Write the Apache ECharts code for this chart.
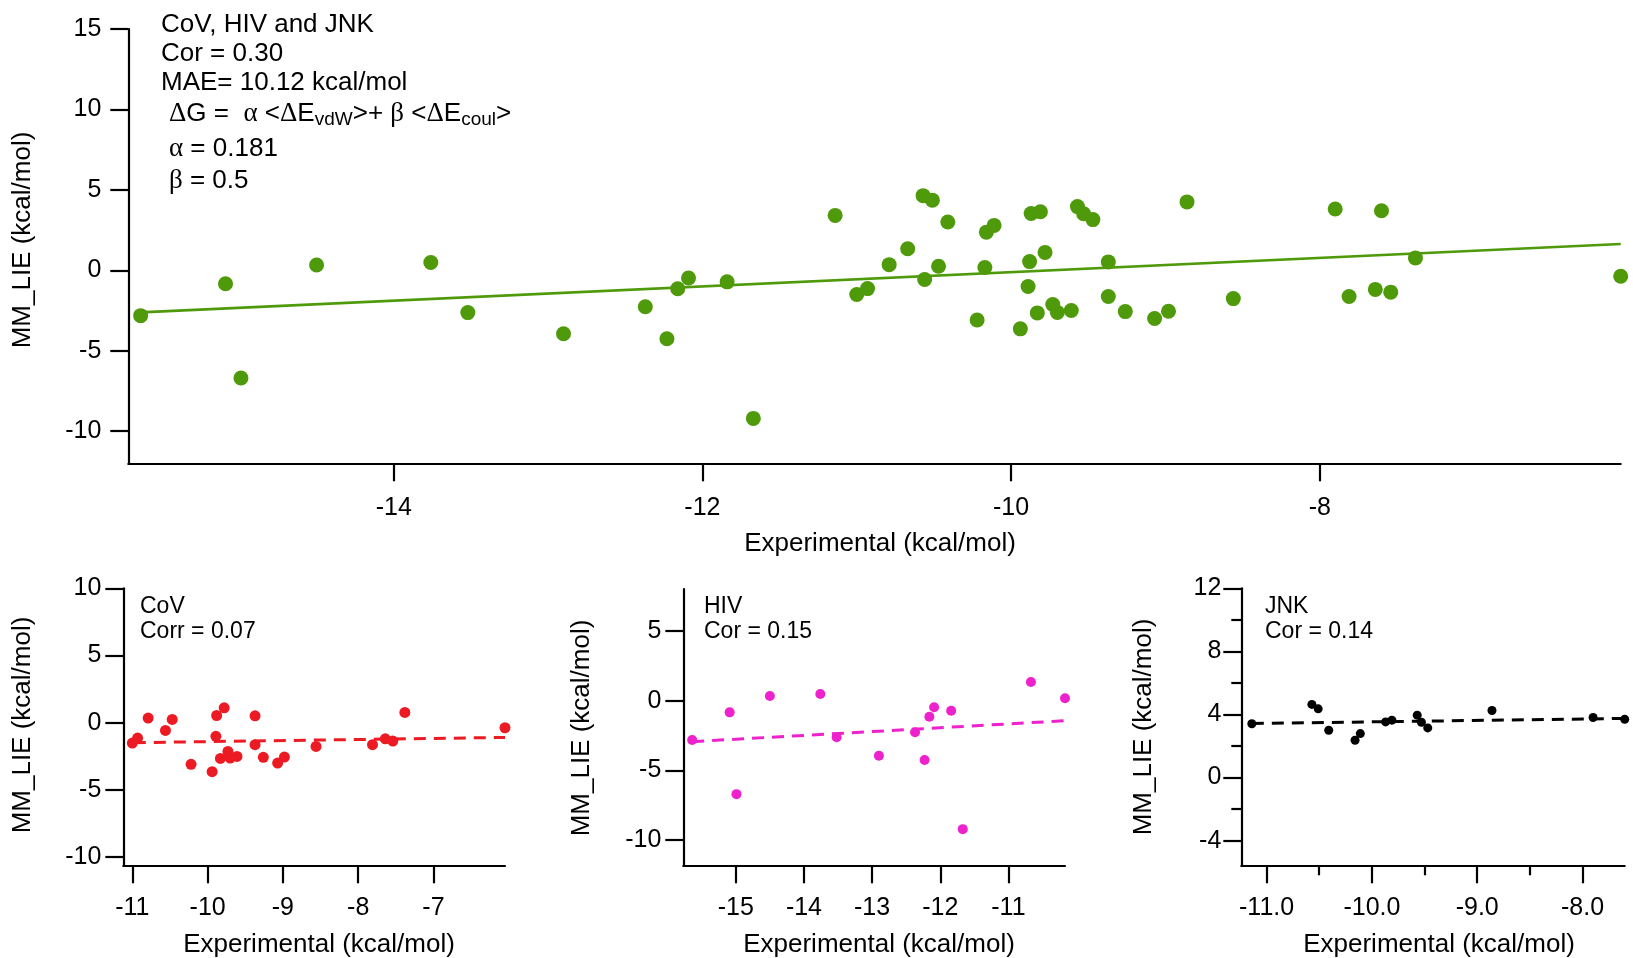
<!DOCTYPE html>
<html>
<head>
<meta charset="utf-8">
<script src="https://cdn.jsdelivr.net/npm/echarts@6/dist/echarts.min.js"></script>
<style>
  html, body { margin: 0; padding: 0; background: #fff; }
  #chart { width: 1633px; height: 958px; }
</style>
</head>
<body>
<div id="chart"></div>
<script>
// values (kcal/mol)
const covX = [-11.0, -10.93, -10.79, -10.56, -10.47, -10.22, -9.94, -9.89, -9.88, -9.78, -9.83, -9.73, -9.70, -9.61, -9.37, -9.37, -9.26, -9.07, -8.98, -8.56, -7.81, -7.64, -7.54, -7.38, -6.05]
const covY = [-1.51, -1.14, 0.35, -0.57, 0.25, -3.09, -3.64, -1.01, 0.54, 1.11, -2.65, -2.13, -2.62, -2.5, 0.52, -1.63, -2.57, -3.0, -2.55, -1.76, -1.63, -1.19, -1.36, 0.77, -0.37]
const hivX = [-15.64, -15.09, -14.99, -14.5, -13.76, -13.52, -12.9, -12.37, -12.23, -12.16, -12.09, -11.84, -11.67, -10.67, -10.17]
const hivY = [-2.82, -0.84, -6.7, 0.33, 0.48, -2.63, -3.95, -2.27, -4.26, -1.15, -0.48, -0.72, -9.21, 1.34, 0.17]
const jnkX = [-11.14, -10.57, -10.51, -10.41, -10.16, -10.11, -9.87, -9.81, -9.57, -9.53, -9.47, -8.86, -7.9, -7.6]
const jnkY = [3.41, 4.64, 4.36, 3.0, 2.37, 2.79, 3.53, 3.64, 3.96, 3.51, 3.15, 4.25, 3.81, 3.7]

// fitted lines, end points
const allFitX = [-15.64, -6.05]
const allFitY = [-2.62, 1.63]
const covFitX = [-10.98, -6.05]
const covFitY = [-1.48, -1.09]
const hivFitX = [-15.64, -10.17]
const hivFitY = [-2.94, -1.44]
const jnkFitX = [-11.14, -7.6]
const jnkFitY = [3.43, 3.75]

// tick labels
const topXTicks = [-14, -12, -10, -8]
const topYTicks = [-10, -5, 0, 5, 10, 15]
const covXTicks = [-11, -10, -9, -8, -7]
const covYTicks = [-10, -5, 0, 5, 10]
const hivXTicks = [-15, -14, -13, -12, -11]
const hivYTicks = [-10, -5, 0, 5]
const jnkXTicks = [-11, -10, -9, -8]
const jnkXMinor = [-10.5, -9.5, -8.5]
const jnkYTicks = [-4, 0, 4, 8, 12]
const jnkYMinor = [-2, 2, 6, 10]

const SANS = "'Liberation Sans', Arial, sans-serif"
const SERIF = "'Liberation Serif', 'Times New Roman', serif"

const pairs = (xs, ys) => xs.map((x, i) => [x, ys[i]])

function axis(dim, gridIndex, min, max, ticks, margin, fmt) {
  return {
    type: "value",
    gridIndex: gridIndex,
    position: dim === "x" ? "bottom" : "left",
    min: min,
    max: max,
    axisLine: { show: true, onZero: false, lineStyle: { color: "#000", width: 2.2 } },
    axisTick: { show: true, inside: false, length: 18, customValues: ticks, lineStyle: { color: "#000", width: 2.2 } },
    axisLabel: {
      customValues: ticks,
      margin: margin,
      color: "#000",
      fontSize: 25,
      fontFamily: SANS,
      formatter: fmt || ((v) => String(v)),
    },
    splitLine: { show: false },
  }
}

// short ticks only, no line and no labels
function minorAxis(dim, gridIndex, min, max, ticks) {
  return {
    type: "value",
    gridIndex: gridIndex,
    position: dim === "x" ? "bottom" : "left",
    min: min,
    max: max,
    axisLine: { show: false, onZero: false },
    axisTick: { show: true, inside: false, length: 10, customValues: ticks, lineStyle: { color: "#000", width: 2.2 } },
    axisLabel: { show: false },
    splitLine: { show: false },
  }
}

function dots(xi, yi, xs, ys, color, size) {
  return {
    type: "scatter",
    xAxisIndex: xi,
    yAxisIndex: yi,
    data: pairs(xs, ys),
    symbol: "circle",
    symbolSize: size,
    clip: false,
    itemStyle: { color: color, opacity: 1 },
    z: 3,
    silent: true,
  }
}

function fit(xi, yi, xs, ys, color, width, dashed) {
  return {
    type: "line",
    xAxisIndex: xi,
    yAxisIndex: yi,
    data: pairs(xs, ys),
    symbol: "none",
    clip: false,
    lineStyle: { color: color, width: width, type: dashed ? [12, 8] : "solid" },
    z: 2,
    silent: true,
  }
}

function label(text, x, y, size) {
  return {
    type: "text",
    x: x,
    y: y,
    style: { text: text, fill: "#000", fontSize: size || 26, fontFamily: SANS, align: "left", verticalAlign: "middle" },
  }
}

function centered(text, x, y, rotate) {
  return {
    type: "text",
    x: x,
    y: y,
    rotation: rotate ? Math.PI / 2 : 0,
    style: { text: text, fill: "#000", fontSize: 26, fontFamily: SANS, align: "center", verticalAlign: "middle" },
  }
}

const green = "#4e9a0a"
const red = "#ec1b23"
const pink = "#ee22cc"

const chart = echarts.init(document.getElementById("chart"))
chart.setOption({
  animation: false,
  backgroundColor: "#fff",
  grid: [
    { left: 128.3, top: 29, width: 1492.4, height: 434.3, outerBoundsMode: "none" },
    { left: 123.3, top: 588.3, width: 381.7, height: 277, outerBoundsMode: "none" },
    { left: 683.3, top: 589, width: 381.7, height: 276.3, outerBoundsMode: "none" },
    { left: 1241.3, top: 588.3, width: 383.4, height: 277, outerBoundsMode: "none" },
  ],
  xAxis: [
    axis("x", 0, -15.72, -6.05, topXTicks, 32),
    axis("x", 1, -11.12, -6.05, covXTicks, 30),
    axis("x", 2, -15.77, -10.17, hivXTicks, 30),
    axis("x", 3, -11.24, -7.6, jnkXTicks, 30, (v) => v.toFixed(1)),
    minorAxis("x", 3, -11.24, -7.6, jnkXMinor),
  ],
  yAxis: [
    axis("y", 0, -12, 15, topYTicks, 27),
    axis("y", 1, -10.6, 10, covYTicks, 22),
    axis("y", 2, -11.8, 8, hivYTicks, 22),
    axis("y", 3, -5.56, 12, jnkYTicks, 20),
    minorAxis("y", 3, -5.56, 12, jnkYMinor),
  ],
  series: [
    fit(0, 0, allFitX, allFitY, green, 2.6, false),
    dots(0, 0, covX.concat(hivX, jnkX), covY.concat(hivY, jnkY), green, 15),
    fit(1, 1, covFitX, covFitY, red, 3, true),
    dots(1, 1, covX, covY, red, 11),
    fit(2, 2, hivFitX, hivFitY, pink, 3, true),
    dots(2, 2, hivX, hivY, pink, 10),
    fit(3, 3, jnkFitX, jnkFitY, "#000", 3, true),
    dots(3, 3, jnkX, jnkY, "#000", 9),
  ],
  graphic: [
    // top panel notes
    label("CoV, HIV and JNK", 161, 25),
    label("Cor = 0.30", 161, 54),
    label("MAE= 10.12 kcal/mol", 161, 83),
    {
      type: "text",
      x: 169,
      y: 114,
      style: {
        text: "{g|Δ}{t|G =  }{g|α}{t| <}{g|Δ}{t|E}{s|vdW}{t|>+ }{g|β}{t| <}{g|Δ}{t|E}{s|coul}{t|>}",
        align: "left",
        verticalAlign: "middle",
        rich: {
          g: { fill: "#000", fontFamily: SERIF, fontSize: 27, lineHeight: 30 },
          t: { fill: "#000", fontFamily: SANS, fontSize: 26, lineHeight: 30 },
          s: { fill: "#000", fontFamily: SANS, fontSize: 19, lineHeight: 4, verticalAlign: "bottom" },
        },
      },
    },
    {
      type: "text",
      x: 169,
      y: 149,
      style: {
        text: "{g|α}{t| = 0.181}",
        align: "left",
        verticalAlign: "middle",
        rich: {
          g: { fill: "#000", fontFamily: SERIF, fontSize: 27 },
          t: { fill: "#000", fontFamily: SANS, fontSize: 26 },
        },
      },
    },
    {
      type: "text",
      x: 169,
      y: 181,
      style: {
        text: "{g|β}{t| = 0.5}",
        align: "left",
        verticalAlign: "middle",
        rich: {
          g: { fill: "#000", fontFamily: SERIF, fontSize: 27 },
          t: { fill: "#000", fontFamily: SANS, fontSize: 26 },
        },
      },
    },
    // panel notes below
    label("CoV", 140, 607, 23),
    label("Corr = 0.07", 140, 632, 23),
    label("HIV", 704, 607, 23),
    label("Cor = 0.15", 704, 632, 23),
    label("JNK", 1265, 607, 23),
    label("Cor = 0.14", 1265, 632, 23),
    // axis titles
    centered("MM_LIE (kcal/mol)", 23, 240, true),
    centered("Experimental (kcal/mol)", 880, 544),
    centered("MM_LIE (kcal/mol)", 23, 725, true),
    centered("Experimental (kcal/mol)", 319, 945),
    centered("MM_LIE (kcal/mol)", 582, 728, true),
    centered("Experimental (kcal/mol)", 879, 945),
    centered("MM_LIE (kcal/mol)", 1144, 727, true),
    centered("Experimental (kcal/mol)", 1439, 945),
  ],
})
</script>
</body>
</html>
